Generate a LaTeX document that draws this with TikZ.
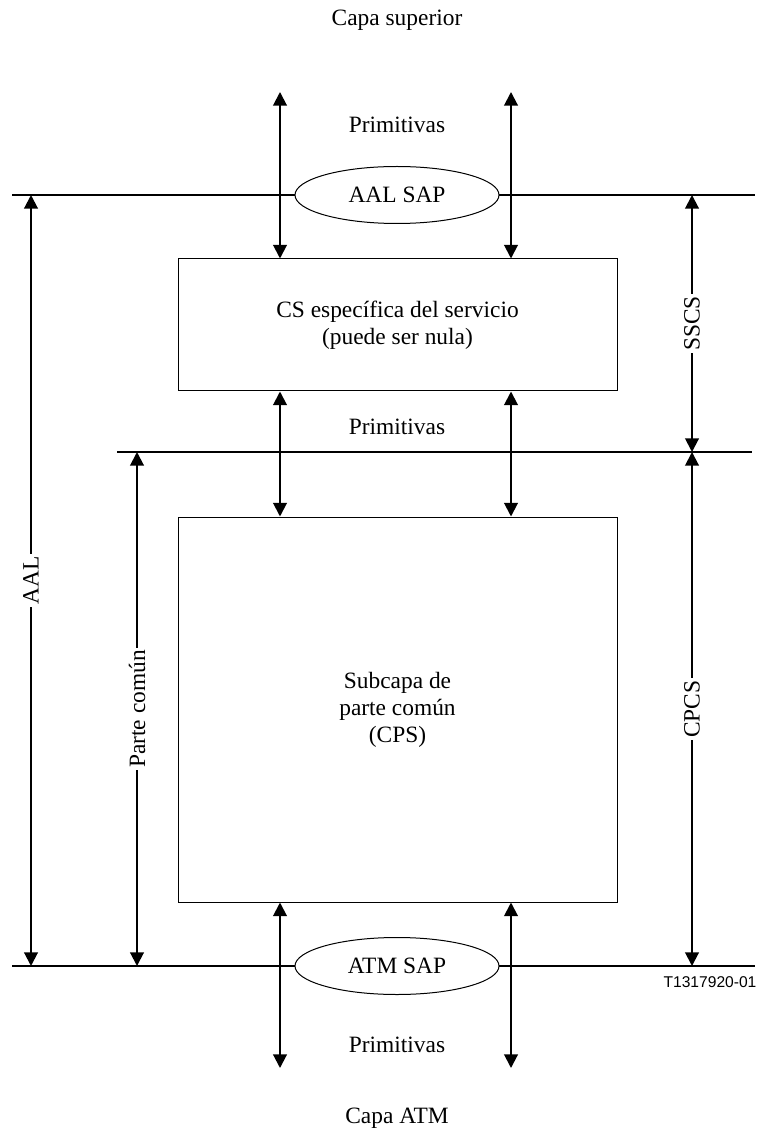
\documentclass[tikz,border=0pt]{standalone}
\usepackage{fontspec}
\setmainfont{Liberation Serif}
\newfontfamily\figsans{Liberation Sans}
\usetikzlibrary{shapes.geometric, arrows.meta, positioning, calc}

\begin{document}
\begin{tikzpicture}[
    x=0.5pt, y=-0.5pt,
    font=\fontsize{11.7}{13.5}\selectfont,
    layerbox/.style={
        rectangle, draw, line width=0.5pt,
        minimum width=219.5pt, align=center
    },
    sap/.style={
        ellipse, draw, fill=white, line width=0.5pt,
        minimum width=102pt, minimum height=28.5pt, inner sep=0pt
    },
    boundary/.style={draw, line width=1pt},
    prim/.style={draw, line width=1pt,
        {Triangle[width=6.8pt,length=6.8pt]}-{Triangle[width=6.8pt,length=6.8pt]}},
    dimlabel/.style={fill=white, rotate=90, inner sep=1pt}
]
    \useasboundingbox (0,0) rectangle (759,1133);

    % layer boxes and access points
    \node [layerbox, minimum height=66pt]    (sscs)   at (397.5,325)   {CS específica del servicio\\(puede ser nula)};
    \node [layerbox, minimum height=192.5pt] (cps)    at (397.5,709.5) {Subcapa de\\parte común\\(CPS)};

    \coordinate (aalL) at (12,195);   \coordinate (aalR) at (755,195);
    \coordinate (cpL)  at (117,452);  \coordinate (cpR)  at (752,452);
    \coordinate (atmL) at (12,966);   \coordinate (atmR) at (755,966);

    \path [boundary] (aalL) -- (aalR);
    \path [boundary] (cpL)  -- (cpR);
    \path [boundary] (atmL) -- (atmR);

    \node [sap] (aalsap) at (397,195) {AAL SAP};
    \node [sap] (atmsap) at (397,966) {ATM SAP};

    % texts
    \node (capasup) at (397,20)   {Capa superior};
    \node (primtop) at (397,125)  {Primitivas};
    \node (primmid) at (397,427)  {Primitivas};
    \node (primbot) at (397,1045) {Primitivas};
    \node (capaatm) at (397,1118) {Capa ATM};
    \node [font=\figsans\fontsize{7.8}{9}\selectfont] (figno) at (710,982) {T1317920-01};

    % primitive arrows
    \coordinate (upA) at (280,92);    \coordinate (upB) at (511,92);
    \coordinate (dnA) at (280,1068);  \coordinate (dnB) at (511,1068);

    \path [prim] (upA) -- (upA |- sscs.north);
    \path [prim] (upB) -- (upB |- sscs.north);
    \path [prim] (sscs.south -| upA) -- (cps.north -| upA);
    \path [prim] (sscs.south -| upB) -- (cps.north -| upB);
    \path [prim] (cps.south -| dnA) -- (dnA);
    \path [prim] (cps.south -| dnB) -- (dnB);

    % extents
    \coordinate (aalTop) at (31,195);  \coordinate (aalBot) at (31,966);
    \coordinate (cpTop)  at (137,452); \coordinate (cpBot)  at (137,966);
    \coordinate (ssTop)  at (692,195); \coordinate (ssBot)  at (692,452);
    \coordinate (cpcsBot) at (692,966);

    \path [prim] (aalTop) -- node[dimlabel]{AAL} (aalBot);
    \path [prim] (cpTop)  -- node[dimlabel]{Parte común} (cpBot);
    \path [prim] (ssTop)  -- node[dimlabel]{SSCS} (ssBot);
    \path [prim] (ssBot)  -- node[dimlabel]{CPCS} (cpcsBot);
\end{tikzpicture}
\end{document}
